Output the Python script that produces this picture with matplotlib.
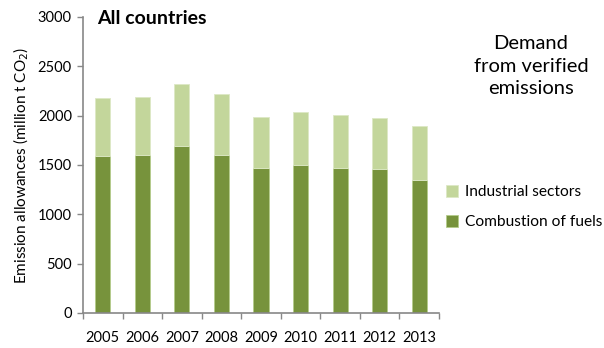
import matplotlib
matplotlib.use('Agg')
import matplotlib.pyplot as plt
import numpy as np

years = ['2005', '2006', '2007', '2008', '2009', '2010', '2011', '2012', '2013']
combustion = [1594, 1604, 1692, 1604, 1470, 1503, 1473, 1463, 1352]
industrial = [585, 588, 629, 619, 513, 531, 530, 510, 547]

plt.rcParams['font.family'] = ['Lato', 'DejaVu Sans']

fig = plt.figure(figsize=(6.04, 3.48), dpi=100)
ax = fig.add_axes([83 / 604, 35 / 348, 356 / 604, 296 / 348])

x = np.arange(len(years))
w = 0.38
ax.bar(x, combustion, w, color='#77933C', edgecolor='#B5CC8A', lw=0.6,
       label='Combustion of fuels')
ax.bar(x, industrial, w, bottom=combustion, color='#C3D69B',
       edgecolor='#DDE8C6', lw=0.6, label='Industrial sectors')

ax.set_xlim(-0.5, len(years) - 0.5)
ax.set_ylim(0, 3000)
ax.set_yticks(range(0, 3001, 500))
ax.set_xticks(x)
ax.set_xticklabels(years, fontsize=10.5)
ax.set_xticks(np.arange(-0.5, len(years)), minor=True)
ax.tick_params(axis='x', which='major', length=0, pad=13)
ax.tick_params(axis='x', which='minor', length=4, color='#888888', width=1)
ax.tick_params(axis='y', length=4, color='#888888', width=1, labelsize=10.5,
               pad=4)

for s in ['top', 'right']:
    ax.spines[s].set_visible(False)
for s in ['left', 'bottom']:
    ax.spines[s].set_color('#888888')
    ax.spines[s].set_linewidth(1.2)

ax.set_ylabel('Emission allowances (million t CO$_2$)', fontsize=11,
              labelpad=5)

fig.text(97 / 604, 1 - 18 / 348, 'All countries', fontsize=14,
         fontweight='bold', va='center', ha='left')
fig.text(531 / 604, 1 - 66 / 348, 'Demand\nfrom verified\nemissions',
         fontsize=14.5, ha='center', va='center', linespacing=1.4)

handles, labels = ax.get_legend_handles_labels()
fig.legend(handles[::-1], labels[::-1], loc='center left',
           bbox_to_anchor=(446 / 604, 1 - 207 / 348), frameon=False,
           fontsize=11.2, handlelength=0.8, handleheight=0.8,
           handletextpad=0.4, labelspacing=1.0, borderpad=0,
           borderaxespad=0)

fig.savefig('out.png', dpi=100)
